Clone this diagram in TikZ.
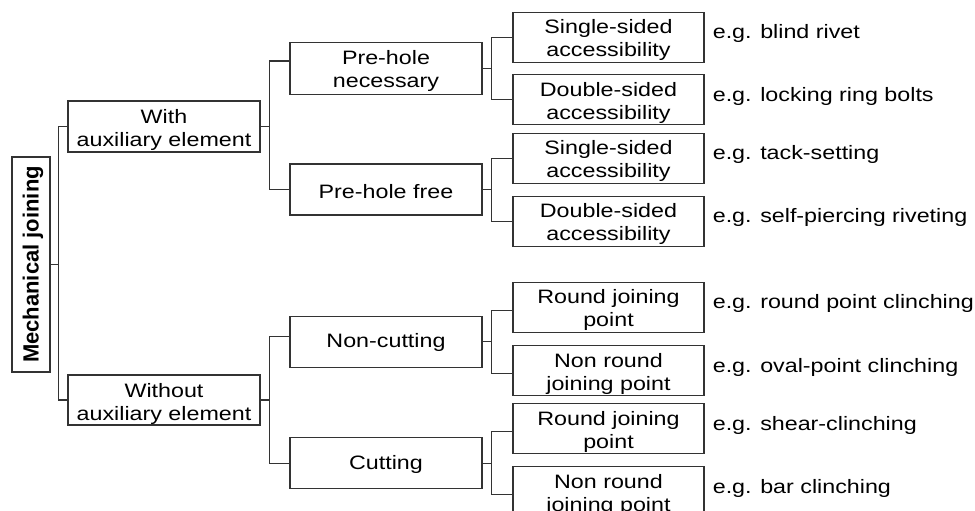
\documentclass[tikz,border=0pt]{standalone}
\usepackage{fontspec}
\setmainfont{Liberation Sans}[FakeStretch=1.2]
\newfontfamily\rootfont{Liberation Sans}
\usetikzlibrary{calc}
\definecolor{treeline}{HTML}{333333}
\tikzset{
  conn/.style={draw=treeline,line width=1.2pt},
  egtext/.style={anchor=mid west,inner sep=0pt,font=\fontsize{19.4}{23}\selectfont}
}
% name, x, y, width, height, text shift, text
\newcommand{\treebox}[7]{%
  \node[draw=treeline,line width=1.2pt,minimum width=#4pt,minimum height=#5pt,
        inner sep=0pt] (#1) at (#2,#3) {};
  \node[align=center,inner sep=0pt,font=\fontsize{19.4}{23}\selectfont]
        (#1-t) at ($(#1.center)+(0,#6)$) {#7};
}

\begin{document}
\begin{tikzpicture}[x=1pt,y=-1pt]
  \useasboundingbox (0,0) rectangle (975,511);
  % root
  \node[draw=treeline,line width=1.2pt,minimum width=38pt,minimum height=215pt,
        inner sep=0pt] (root) at (31,264.5) {};
  \node[rotate=90,inner sep=0pt,font=\rootfont\bfseries\fontsize{22}{24}\selectfont]
        (root-t) at ($(root.center)+(2,0)$) {Mechanical joining};
  % first and second level
  \treebox{with}{164}{126.5}{192}{51}{3.5}{With\\auxiliary element}
  \treebox{without}{164}{400}{192}{50}{3.5}{Without\\auxiliary element}
  \treebox{phn}{386}{68.5}{192}{51.5}{2}{Pre-hole\\necessary}
  \treebox{phf}{386}{189.5}{192}{51}{2}{Pre-hole free}
  \treebox{nc}{386}{341.7}{192}{51}{1}{Non-cutting}
  \treebox{cut}{386}{463.2}{192}{51}{1}{Cutting}
  % third level with examples
  \foreach \n/\y/\a/\b/\eg in {
      s1/37.3/Single-sided/accessibility/blind rivet,
      s2/99.5/Double-sided/accessibility/locking ring bolts,
      s3/158.3/Single-sided/accessibility/tack-setting,
      s4/221.3/Double-sided/accessibility/self-piercing riveting,
      s5/307.3/Round joining/point/round point clinching,
      s6/370.5/Non round/joining point/oval-point clinching,
      s7/428.7/Round joining/point/shear-clinching,
      s8/491.7/Non round/joining point/bar clinching} {
    \treebox{\n}{608.5}{\y}{191}{50}{3}{\a\\\b}
    \node[egtext] (\n-eg) at ($(\n.east)+(8,-1)$) {e.g. \eg};
  }
  % connectors
  \draw[conn] (with.west) -- ++(-9,0) coordinate (j-root) |- (without.west);
  \draw[conn] (root.east) -- (root.east -| j-root);
  \draw[conn] ([yshift=7.5pt]phn.west) -- ++(-20,0) coordinate (j-with) |- (phf.west);
  \draw[conn] (with.east) -- (with.east -| j-with);
  \draw[conn] ([yshift=5.5pt]nc.west) -- ++(-20,0) coordinate (j-without) |- (cut.west);
  \draw[conn] (without.east) -- (without.east -| j-without);
  \foreach \p/\a/\b/\d in {phn/s1/s2/0, phf/s3/s4/0, nc/s5/s6/-3, cut/s7/s8/-3} {
    \draw[conn] ([yshift=\d pt]\a.west) -- ++(-21,0) coordinate (j-\p) |- ([yshift=\d pt]\b.west);
    \draw[conn] (\p.east) -- (\p.east -| j-\p);
  }
\end{tikzpicture}
\end{document}
